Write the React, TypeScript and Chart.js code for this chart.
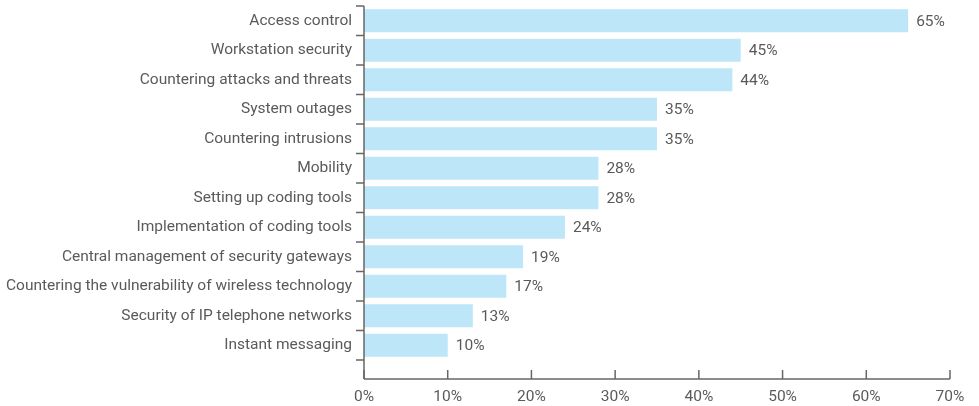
import React, { useEffect, useRef } from "react";
import { Chart, registerables } from "chart.js";

Chart.register(...registerables);

const categories = [
  "Access control",
  "Workstation security",
  "Countering attacks and threats",
  "System outages",
  "Countering intrusions",
  "Mobility",
  "Setting up coding tools",
  "Implementation of coding tools",
  "Central management of security gateways",
  "Countering the vulnerability of wireless technology",
  "Security of IP telephone networks",
  "Instant messaging",
];
const values = [65, 45, 44, 35, 35, 28, 28, 24, 19, 17, 13, 10];
const xTicks = [0, 10, 20, 30, 40, 50, 60, 70];

const FONT_FAMILY = "'Roboto', 'Liberation Sans', sans-serif";
const FONT_SIZE = 15.5;
const TEXT_COLOR = "#5a5a5a";
const AXIS_COLOR = "#666666";
const BAR_COLOR = "#bde6f8";

const zeroPadding = (s: any) => {
  s.paddingTop = 0;
  s.paddingBottom = 0;
  s.paddingLeft = 0;
  s.paddingRight = 0;
};

const decorPlugin = {
  id: "decor",
  afterDatasetsDraw(chart: any) {
    const { ctx, chartArea } = chart;
    const xs = chart.scales.x;
    const ys = chart.scales.y;
    const axisY = chartArea.bottom + 19;
    ctx.save();
    ctx.strokeStyle = AXIS_COLOR;
    ctx.lineWidth = 1.5;
    // y axis line
    ctx.beginPath();
    ctx.moveTo(xs.left, chartArea.top);
    ctx.lineTo(xs.left, axisY);
    ctx.stroke();
    // category boundary ticks
    const n = categories.length;
    const step = (ys.getPixelForValue(n - 1) - ys.getPixelForValue(0)) / (n - 1);
    for (let i = 0; i <= n; i++) {
      const y = ys.getPixelForValue(0) - step / 2 + i * step;
      ctx.beginPath();
      ctx.moveTo(xs.left - 8, y);
      ctx.lineTo(xs.left, y);
      ctx.stroke();
    }
    // x axis line
    ctx.beginPath();
    ctx.moveTo(xs.left, axisY);
    ctx.lineTo(xs.right, axisY);
    ctx.stroke();
    for (const t of xTicks) {
      const x = xs.getPixelForValue(t);
      ctx.beginPath();
      ctx.moveTo(x, axisY);
      ctx.lineTo(x, axisY - 9);
      ctx.stroke();
    }
    // value labels
    const meta = chart.getDatasetMeta(0);
    ctx.fillStyle = TEXT_COLOR;
    ctx.font = `${FONT_SIZE}px ${FONT_FAMILY}`;
    ctx.textAlign = "left";
    ctx.textBaseline = "middle";
    meta.data.forEach((bar: any, i: number) => {
      ctx.fillText(`${values[i]}%`, bar.x + 8, bar.y + 1);
    });
    ctx.restore();
  },
};

export default function App() {
  const ref = useRef<HTMLCanvasElement | null>(null);
  useEffect(() => {
    document.body.style.margin = "0";
    const canvas = ref.current!;
    const chart = new Chart(canvas, {
      type: "bar",
      data: {
        labels: categories,
        datasets: [
          {
            data: values,
            backgroundColor: BAR_COLOR,
            borderWidth: 0,
            barPercentage: 0.78,
            categoryPercentage: 1,
          },
        ],
      },
      options: {
        indexAxis: "y",
        responsive: false,
        animation: false,
        layout: { autoPadding: false, padding: { top: 6, right: 29, left: 0, bottom: 0 } },
        plugins: { legend: { display: false }, tooltip: { enabled: false } },
        scales: {
          x: {
            type: "linear",
            min: 0,
            max: 70,
            grid: { display: false, drawTicks: false },
            border: { display: false },
            afterFit: (s: any) => {
              s.height = 46;
              zeroPadding(s);
            },
            ticks: {
              stepSize: 10,
              padding: 28,
              maxRotation: 0,
              color: TEXT_COLOR,
              font: { family: FONT_FAMILY, size: FONT_SIZE },
              callback: (v: any) => `${v}%`,
            },
          },
          y: {
            grid: { display: false, drawTicks: false },
            border: { display: false },
            afterFit: (s: any) => {
              s.width = 364;
              zeroPadding(s);
            },
            ticks: {
              padding: 12,
              color: TEXT_COLOR,
              font: { family: FONT_FAMILY, size: FONT_SIZE },
            },
          },
        },
      },
      plugins: [decorPlugin],
    });
    return () => chart.destroy();
  }, []);
  return <canvas ref={ref} width={979} height={406} style={{ display: "block" }} />;
}
